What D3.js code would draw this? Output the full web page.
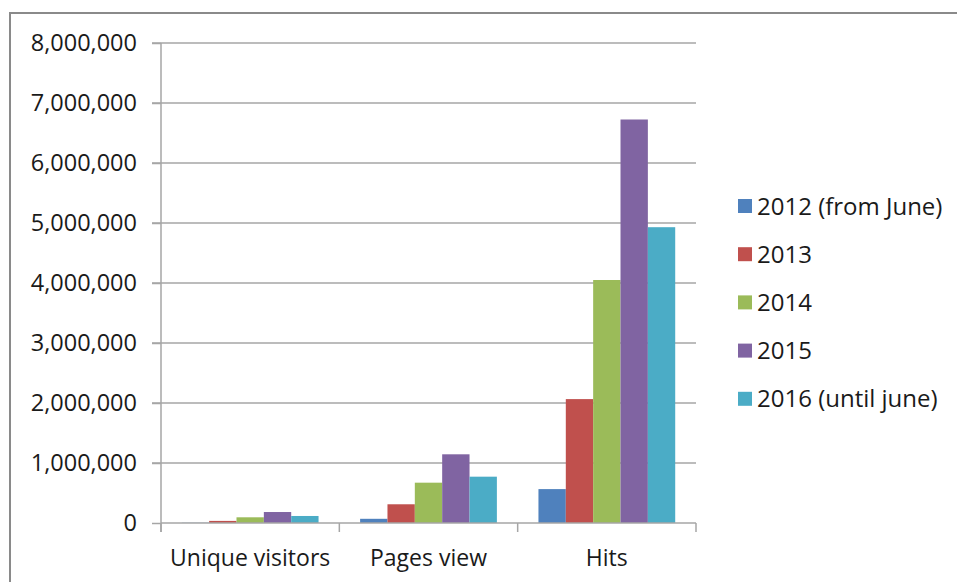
<!DOCTYPE html>
<html>
<head>
<meta charset="utf-8">
<script src="https://cdn.jsdelivr.net/npm/d3@7"></script>
<style>
  body { margin: 0; background: #fff; }
  text { font-family: "Open Sans", sans-serif; fill: #1a1a1a; }
</style>
</head>
<body>
<div id="chart"></div>
<script>
// data
var categories = ["Unique visitors", "Pages view", "Hits"];
var seriesNames = ["2012 (from June)", "2013", "2014", "2015", "2016 (until june)"];
var seriesColors = ["#4F81BD", "#C0504D", "#9BBB59", "#8064A2", "#4BACC6"];
var values2012 = [4000, 70000, 565000];
var values2013 = [35000, 312000, 2065000];
var values2014 = [95000, 672000, 4050000];
var values2015 = [183000, 1145000, 6725000];
var values2016 = [117000, 772000, 4930000];
var yTicks = [0, 1000000, 2000000, 3000000, 4000000, 5000000, 6000000, 7000000, 8000000];

var allValues = [values2012, values2013, values2014, values2015, values2016];

var width = 957, height = 582;
var margin = {top: 43, left: 161, right: 261, bottom: 59};
var plotW = width - margin.left - margin.right,
    plotH = height - margin.top - margin.bottom;

var svg = d3.select("#chart").append("svg")
    .attr("width", width)
    .attr("height", height);

// outer chart border
svg.append("rect")
    .attr("x", 10).attr("y", 13)
    .attr("width", 960).attr("height", 600)
    .attr("fill", "none")
    .attr("stroke", "#8a8a8a")
    .attr("stroke-width", 2);

var g = svg.append("g")
    .attr("transform", "translate(" + margin.left + "," + margin.top + ")");

var y = d3.scaleLinear().domain([0, 8000000]).range([plotH, 0]);
var x0 = d3.scaleBand().domain(categories).range([0, plotW]).paddingInner(0).paddingOuter(0);
var x1 = d3.scaleBand().domain(seriesNames).range([0, x0.bandwidth()]).paddingInner(0).paddingOuter(0.76);

// gridlines
g.append("g").selectAll("line")
    .data(yTicks.slice(1))
    .enter().append("line")
    .attr("x1", -9).attr("x2", plotW)
    .attr("y1", function(d) { return y(d); })
    .attr("y2", function(d) { return y(d); })
    .attr("stroke", "#a6a6a6")
    .attr("stroke-width", 1.5);

// bars
var cat = g.selectAll(".cat")
    .data(categories)
    .enter().append("g")
    .attr("class", "cat")
    .attr("transform", function(d) { return "translate(" + x0(d) + ",0)"; });

cat.selectAll("rect")
    .data(function(d, i) {
      return seriesNames.map(function(s, j) { return {series: s, value: allValues[j][i], color: seriesColors[j]}; });
    })
    .enter().append("rect")
    .attr("x", function(d) { return x1(d.series); })
    .attr("y", function(d) { return y(d.value); })
    .attr("width", x1.bandwidth())
    .attr("height", function(d) { return plotH - y(d.value); })
    .attr("fill", function(d) { return d.color; });

// y axis
var yaxis = d3.axisLeft(y)
    .tickValues(yTicks)
    .tickSize(9)
    .tickPadding(15)
    .tickFormat(d3.format(","));

var ya = g.append("g").attr("class", "yaxis").call(yaxis);
ya.select(".domain").remove();
ya.selectAll(".tick line").attr("stroke", "#a6a6a6").attr("stroke-width", 1.5);
ya.selectAll("text").style("font-size", "23.5px").attr("fill", "#1a1a1a");
g.append("line")
    .attr("x1", 0).attr("x2", 0).attr("y1", 0).attr("y2", plotH + 9)
    .attr("stroke", "#a6a6a6").attr("stroke-width", 1.5);

// x axis
g.append("line")
    .attr("x1", 0).attr("x2", plotW).attr("y1", plotH).attr("y2", plotH)
    .attr("stroke", "#a6a6a6").attr("stroke-width", 1.5);

g.append("g").selectAll("line")
    .data(d3.range(categories.length + 1))
    .enter().append("line")
    .attr("x1", function(d) { return d * x0.step(); })
    .attr("x2", function(d) { return d * x0.step(); })
    .attr("y1", plotH).attr("y2", plotH + 9)
    .attr("stroke", "#a6a6a6").attr("stroke-width", 1.5);

g.append("g").selectAll("text")
    .data(categories)
    .enter().append("text")
    .attr("x", function(d) { return x0(d) + x0.bandwidth() / 2; })
    .attr("y", plotH + 43)
    .attr("text-anchor", "middle")
    .style("font-size", "23px")
    .text(function(d) { return d; });

// legend
var legend = svg.append("g").attr("transform", "translate(738,199)");
var item = legend.selectAll("g")
    .data(seriesNames)
    .enter().append("g")
    .attr("transform", function(d, i) { return "translate(0," + (i * 48.2) + ")"; });

item.append("rect")
    .attr("width", 14).attr("height", 14)
    .attr("fill", function(d, i) { return seriesColors[i]; });

item.append("text")
    .attr("x", 19).attr("y", 7)
    .attr("dy", "0.36em")
    .style("font-size", "24px")
    .text(function(d) { return d; });
</script>
</body>
</html>
